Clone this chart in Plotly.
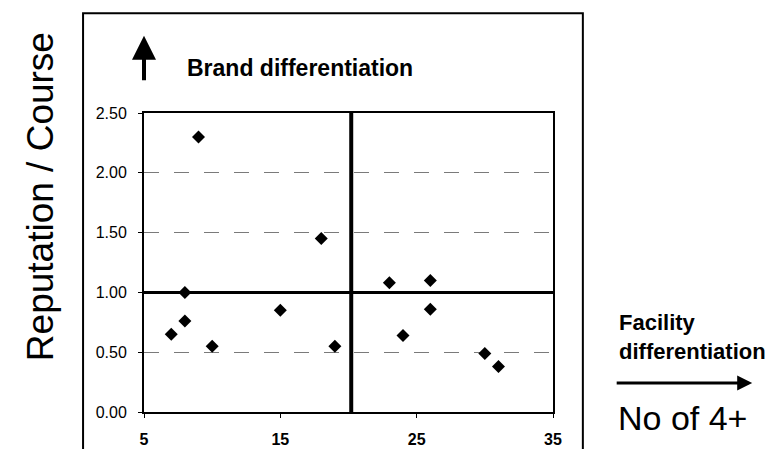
import plotly.graph_objects as go

# ---- data ----
no_of_4plus = [7, 8, 8, 9, 10, 15, 18, 19, 23, 24, 26, 26, 30, 31]
reputation_per_course = [0.65, 1.00, 0.76, 2.30, 0.55, 0.85, 1.45, 0.55,
                         1.08, 0.64, 1.10, 0.86, 0.49, 0.38]
x_ticks = [5, 15, 25, 35]
y_ticks = [0.00, 0.50, 1.00, 1.50, 2.00, 2.50]
x_divider = 20.2
y_divider = 1.0

FONT = "Liberation Sans, Arial, sans-serif"

fig = go.Figure()
fig.add_trace(go.Scatter(
    x=no_of_4plus, y=reputation_per_course, mode="markers",
    marker=dict(symbol="diamond", size=10, color="black"),
    showlegend=False, hoverinfo="skip",
))

# quadrant divider lines
fig.add_shape(type="line", xref="x", yref="y", x0=x_divider, x1=x_divider,
              y0=y_ticks[0], y1=y_ticks[-1], line=dict(color="black", width=4))
fig.add_shape(type="line", xref="x", yref="y", x0=x_ticks[0], x1=x_ticks[-1],
              y0=y_divider, y1=y_divider, line=dict(color="black", width=3))

# outer frame
fig.add_shape(type="rect", xref="paper", yref="paper",
              x0=-0.149, x1=1.073, y0=-0.2, y1=1.334,
              line=dict(color="black", width=2), layer="below")

fig.update_layout(
    width=775, height=449,
    margin=dict(l=144, r=222, t=113, b=37),
    paper_bgcolor="white", plot_bgcolor="white",
    font=dict(family=FONT, color="black"),
    xaxis=dict(range=[x_ticks[0], x_ticks[-1]], tickvals=x_ticks,
               automargin=False,
               showgrid=False, zeroline=False,
               showline=True, linecolor="black", linewidth=2, mirror=True,
               ticks="outside", ticklen=4, tickcolor="black",
               tickfont=dict(family=FONT, size=16, weight="bold", color="black"),
               ticklabelstandoff=8),
    yaxis=dict(range=[y_ticks[0], y_ticks[-1]], tickvals=y_ticks,
               tickformat=".2f", automargin=False,
               showgrid=True, gridcolor="#7a7a7a", griddash="longdash", gridwidth=1,
               zeroline=False,
               showline=True, linecolor="black", linewidth=2, mirror=True,
               ticks="outside", ticklen=4, tickcolor="black",
               tickfont=dict(family=FONT, size=16, color="black"),
               ticklabelstandoff=8),
)

annotations = [
    dict(text="Reputation / Course", x=-0.254, y=0.719, textangle=-90,
         font=dict(size=37, family=FONT, color="black"), showarrow=False,
         xanchor="center", yanchor="middle"),
    dict(text="<b>Brand differentiation</b>", x=0.100, y=1.150,
         font=dict(size=23, family=FONT, color="black"), showarrow=False,
         xanchor="left", yanchor="middle"),
    dict(text="", x=0.0, y=1.258, ax=0, ay=46, axref="pixel", ayref="pixel",
         showarrow=True, arrowhead=2, arrowsize=1.2, arrowwidth=4,
         arrowcolor="black"),
    dict(text="<b>Facility<br>differentiation</b>", x=1.156, y=0.251,
         font=dict(size=22, family=FONT, color="black"), showarrow=False,
         xanchor="left", yanchor="middle", align="left"),
    dict(text="", x=1.487, y=0.097, ax=-137, ay=0, axref="pixel", ayref="pixel",
         showarrow=True, arrowhead=2, arrowsize=1, arrowwidth=3,
         arrowcolor="black"),
    dict(text="No of 4+", x=1.153, y=-0.02,
         font=dict(size=34, family=FONT, color="black"), showarrow=False,
         xanchor="left", yanchor="middle"),
]
for a in annotations:
    a.setdefault("xref", "paper")
    a.setdefault("yref", "paper")
    fig.add_annotation(**a)

fig.write_html("out.html",
               config={"displayModeBar": False},
               post_script="document.body.style.margin='0';"
                           "document.body.style.overflow='hidden';")
